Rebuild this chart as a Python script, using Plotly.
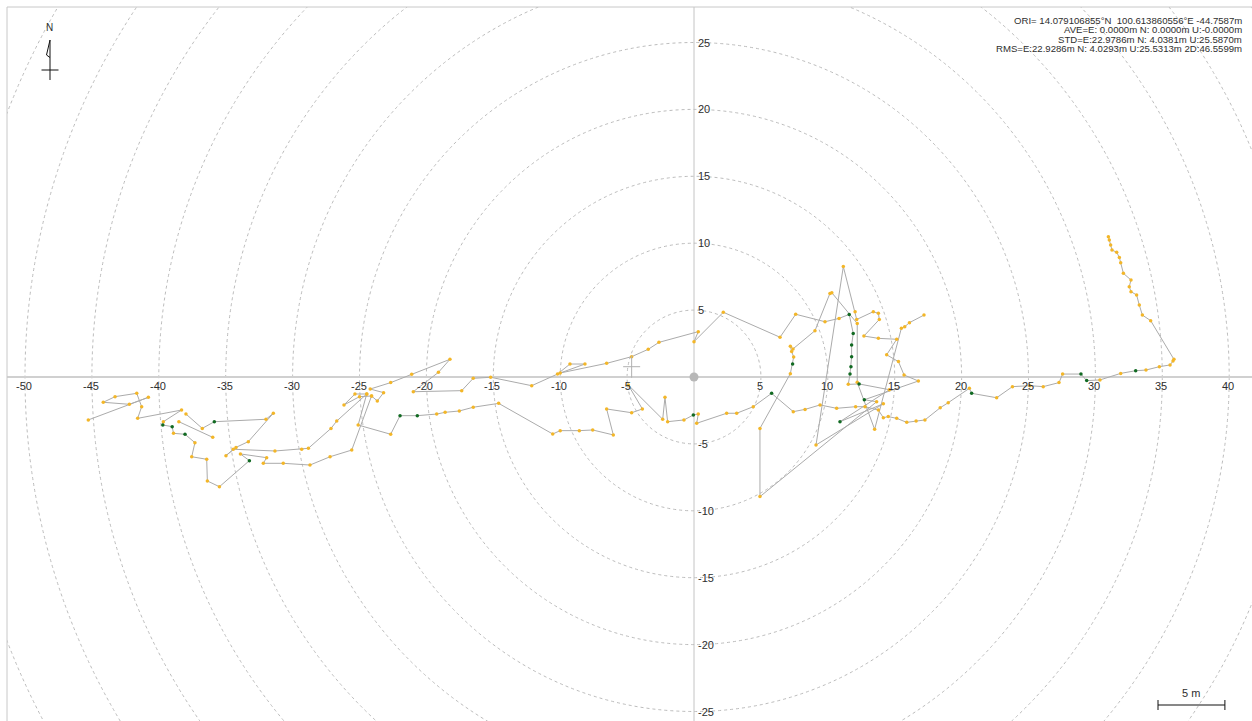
import plotly.graph_objects as go

# ---------------- data (east / north offsets in metres, quality 1=fix, 2=float) -------------
EAST = [
    # western cluster
    -45.27, -40.78, -42.2, -44.15, -43.27, -41.65, -41.28, -41.58, -38.3, -39.66, -39.7, -39.0,
    -38.9, -38.04, -37.3, -37.54, -36.42, -36.37, -35.47, -33.23, -33.9, -31.94, -32.19, -30.7,
    -28.7, -27.2, -25.58, -24.1, None,
    -38.5, -35.97, None,
    # upper track westward -> east
    -37.97, -36.75, -35.85, -31.99, -31.44, -33.31, -34.23, -34.98, -34.43, -31.32, -29.32, -28.82,
    -27.13, -26.7, -24.46, -25.34, -26.16, -25.0, -24.1, -23.67, -23.2, -24.2, -22.67, -21.1,
    -18.24, -19.1, -20.98, -17.36, -16.5, -15.2, -12.13, -10.2, -9.27, -8.15, -10.0, -6.53,
    -4.66, -3.42, -2.62, 0.32, 0.0, 2.19,
    # eastern cluster
    6.43, 7.6, 9.79, 10.84, 11.6, 11.9, 11.78, 11.78, 11.73, 11.66, 11.53, 12.34, 14.6, 10.91,
    14.15, 9.12, 11.16, 12.04, 12.16, 13.4, 13.78, 13.85, 12.7, 13.78, 15.15, 14.4, 15.28, 15.7,
    16.77, 12.73, 13.65, 4.93, 4.93, 7.2, 7.37, 7.45, 7.3, 7.2, 7.4, 9.04, 10.16, 10.3, 12.2,
    12.2, 13.5, 15.5, 15.75, 16.1, 17.19, None,
    # lower track
    -24.46, -25.1, -22.67, -21.97, -20.68, -19.23, -18.6, -17.54, -16.5, -14.6, -10.56, -10.0,
    -8.57, -7.57, -6.03, -6.53, -4.66, -3.86, -4.91, -2.34, -2.17, -1.97, -0.75, -0.05, 0.32,
    0.2, 2.44, 3.19, 4.43, 5.8, 7.42, 8.3, 9.42, 10.66, 12.08, 12.78, 13.78, 14.15, 14.52,
    15.15, 15.9, 16.6, 17.26, 18.4, 19.0, 20.58, 20.75, 22.62, 23.8, 25.1, 26.1, 27.28, 27.55,
    28.92, 29.35, 30.34, 31.89, 33.01, 33.78, 34.78, 35.58, 35.8, 35.87, 34.13, 33.51, 33.28,
    33.08, 32.66, 32.53, 32.66, 32.09, 31.89, 31.79, 31.59, 31.24, 31.14, 31.04, 30.97,
]
NORTH = [
    -3.21, -1.52, -2.04, -1.89, -1.47, -1.22, -2.22, -3.09, -2.47, -3.34, -3.59, -3.71,
    -4.21, -4.28, -4.91, -5.96, -6.15, -7.77, -8.2, -6.25, -5.75, -6.03, -6.45, -6.45,
    -6.58, -5.96, -5.46, -1.42, None,
    -3.34, -4.51, None,
    -2.77, -3.84, -3.34, -3.16, -2.71, -4.83, -5.26, -5.88, -5.4, -5.53, -5.4, -5.33,
    -3.84, -3.29, -1.27, -1.27, -2.09, -1.47, -1.42, -1.79, -1.17, -0.9, -0.42, 0.2,
    1.32, 0.35, -1.1, -1.02, -0.1, -0.02, -0.65, 0.22, 0.97, 0.97, 0.3, 1.02,
    1.52, 2.07, 2.59, 3.39, 2.64, 4.84,
    2.97, 4.69, 4.13, 4.38, 4.68, 3.26, 2.39, 1.52, 0.77, 0.22, -0.55, -0.52, -0.95, -3.34,
    -2.0, -5.08, 8.25, 4.88, 4.3, 4.88, 4.76, 4.3, 3.06, 2.89, 2.82, 1.66, 1.15, 0.15,
    -0.3, -1.7, -1.85, -8.94, -3.84, 0.25, 0.97, 1.5, 1.9, 2.3, 2.1, 3.46, 6.25, 6.3, 4.0,
    -0.4, -3.91, 3.65, 3.76, 4.06, 4.63, None,
    -1.27, -3.59, -4.28, -2.89, -2.89, -2.77, -2.64, -2.54, -2.26, -1.97, -4.26, -4.01,
    -4.01, -3.96, -4.33, -2.39, -2.67, -2.39, -0.6, -3.16, -1.52, -3.34, -3.21, -2.84, -2.77,
    -3.46, -2.71, -2.71, -2.22, -1.22, -2.59, -2.42, -2.09, -2.34, -2.22, -2.22, -2.47, -3.04, -2.96,
    -3.09, -3.39, -3.29, -3.21, -2.3, -1.92, -0.85, -1.22, -1.55, -0.72, -0.65, -0.72, -0.42, 0.22,
    0.22, -0.27, -0.22, 0.27, 0.47, 0.52, 0.77, 0.90, 1.2, 1.32, 4.21, 4.63, 5.38,
    6.13, 6.38, 6.75, 7.25, 7.75, 8.54, 8.94, 9.32, 9.49, 9.87, 10.24, 10.49,
]
QUALITY = [
    2, 2, 2, 2, 2, 2, 2, 2, 2, 2, 1, 1,
    2, 1, 2, 2, 2, 2, 2, 1, 2, 2, 2, 2,
    2, 2, 2, 2, None,
    2, 2, None,
    2, 2, 1, 2, 2, 2, 2, 2, 2, 2, 2, 2,
    2, 2, 2, 2, 2, 2, 2, 2, 2, 2, 2, 2,
    2, 2, 2, 2, 2, 2, 2, 2, 2, 2, 2, 2,
    2, 2, 2, 2, 2, 2,
    2, 2, 2, 2, 1, 1, 1, 1, 1, 1, 2, 1, 2, 1,
    2, 2, 2, 2, 2, 2, 2, 2, 2, 2, 2, 2, 2, 2,
    2, 1, 2, 2, 2, 2, 1, 2, 2, 2, 2, 2, 2, 2, 2,
    2, 2, 2, 2, 2, 2, None,
    2, 2, 2, 1, 1, 2, 2, 2, 2, 2, 2, 2,
    2, 2, 2, 2, 2, 2, 2, 2, 2, 2, 2, 1, 2,
    2, 2, 2, 2, 1, 2, 2, 2, 2, 2, 2, 2, 2, 2,
    2, 2, 2, 2, 2, 2, 2, 1, 2, 2, 2, 2, 2, 2,
    1, 1, 2, 2, 1, 2, 2, 2, 2, 2, 2, 2, 2,
    2, 2, 2, 2, 2, 2, 2, 2, 2, 2, 2, 2,
]

X_TICKS = [-50, -45, -40, -35, -30, -25, -20, -15, -10, -5, 5, 10, 15, 20, 25, 30, 35, 40]
Y_TICKS = [-25, -20, -15, -10, -5, 5, 10, 15, 20, 25]
RING_RADII = [5, 10, 15, 20, 25, 30, 35, 40, 45, 50, 55, 60, 65]
CURSOR = (-4.66, 0.77)
SCALE_BAR_M = 5

INFO_LINES = [
    "ORI= 14.079106855°N  100.613860556°E -44.7587m",
    "AVE=E: 0.0000m N: 0.0000m U:-0.0000m",
    "STD=E:22.9786m N: 4.0381m U:25.5870m",
    "RMS=E:22.9286m N: 4.0293m U:25.5313m 2D:46.5599m",
]

# ---------------- geometry of the page ----------------
W, H = 1252, 721
ML, MT = 7, 7
PPM = 13.38            # pixels per metre
X0_PX, Y0_PX = 694, 377  # pixel position of the origin
XR = [(ML - X0_PX) / PPM, (W - X0_PX) / PPM]
YR = [(Y0_PX - H) / PPM, (Y0_PX - MT) / PPM]


def px2x(px):
    return (px - X0_PX) / PPM


def py2y(py):
    return (Y0_PX - py) / PPM


TRACK = "#ababab"
FLOAT_C = "#f3b628"
FIX_C = "#116a22"
GRID = "#bcbcbc"
AXIS = "#d0d0d0"
TXT = "#2e2e2e"
FONT = "Liberation Sans"

fig = go.Figure()

# track line
fig.add_trace(go.Scatter(x=EAST, y=NORTH, mode="lines",
                         line=dict(color=TRACK, width=1), hoverinfo="skip", showlegend=False))

# points by quality
for q, col in [(2, FLOAT_C), (1, FIX_C)]:
    xs = [e for e, qq in zip(EAST, QUALITY) if qq == q]
    ys = [n for n, qq in zip(NORTH, QUALITY) if qq == q]
    fig.add_trace(go.Scatter(x=xs, y=ys, mode="markers",
                             marker=dict(color=col, size=3.5, line=dict(width=0)),
                             showlegend=False, hoverinfo="skip"))

# origin dot
fig.add_trace(go.Scatter(x=[0], y=[0], mode="markers",
                         marker=dict(color="#b8b8b8", size=9), showlegend=False, hoverinfo="skip"))

shapes = []
# range rings
for r in RING_RADII:
    shapes.append(dict(type="circle", xref="x", yref="y", x0=-r, x1=r, y0=-r, y1=r,
                       line=dict(color=GRID, width=1, dash="3px,3px"), layer="below"))
# axes through origin
shapes.append(dict(type="line", xref="x", yref="y", x0=XR[0], x1=XR[1], y0=0, y1=0,
                   line=dict(color=AXIS, width=2), layer="below"))
shapes.append(dict(type="line", xref="x", yref="y", x0=0, x1=0, y0=YR[0], y1=YR[1],
                   line=dict(color="#c4c4c4", width=1), layer="below"))
# frame (top / left)
shapes.append(dict(type="line", xref="paper", yref="paper", x0=0, x1=1, y0=1, y1=1,
                   line=dict(color="#c8c8c8", width=1)))
shapes.append(dict(type="line", xref="paper", yref="paper", x0=0, x1=0, y0=0, y1=1,
                   line=dict(color="#c8c8c8", width=1)))
# cursor cross
cx, cy = CURSOR
shapes.append(dict(type="line", xref="x", yref="y", x0=cx - 8.5 / PPM, x1=cx + 8.5 / PPM, y0=cy, y1=cy,
                   line=dict(color="#b0b0b0", width=1)))
shapes.append(dict(type="line", xref="x", yref="y", x0=cx, x1=cx, y0=cy - 11 / PPM, y1=cy + 11 / PPM,
                   line=dict(color="#b0b0b0", width=1)))
# north arrow
shapes.append(dict(type="line", xref="x", yref="y", x0=px2x(50), x1=px2x(50), y0=py2y(40), y1=py2y(80),
                   line=dict(color="#111111", width=1)))
shapes.append(dict(type="line", xref="x", yref="y", x0=px2x(41.5), x1=px2x(58.5), y0=py2y(70), y1=py2y(70),
                   line=dict(color="#111111", width=1)))
shapes.append(dict(type="path", xref="x", yref="y",
                   path=f"M {px2x(50)},{py2y(40)} L {px2x(46.5)},{py2y(55)} L {px2x(50)},{py2y(57.5)}",
                   line=dict(color="#111111", width=1)))
# scale bar
sb_y = py2y(705)
sb_x0 = px2x(1158)
sb_x1 = sb_x0 + SCALE_BAR_M
tk = 5 / PPM
shapes.append(dict(type="line", xref="x", yref="y", x0=sb_x0, x1=sb_x1, y0=sb_y, y1=sb_y,
                   line=dict(color="#111111", width=1)))
for xx in (sb_x0, sb_x1):
    shapes.append(dict(type="line", xref="x", yref="y", x0=xx, x1=xx, y0=sb_y - tk, y1=sb_y + tk,
                       line=dict(color="#111111", width=1)))

annotations = []
for t in X_TICKS:
    annotations.append(dict(x=t, y=0, xref="x", yref="y", text=str(t), showarrow=False,
                            xanchor="center", yanchor="middle", yshift=-9, xshift=-1,
                            font=dict(family=FONT, size=11, color=TXT)))
for t in Y_TICKS:
    annotations.append(dict(x=0, y=t, xref="x", yref="y", text=str(t), showarrow=False,
                            xanchor="left", yanchor="middle", xshift=2,
                            font=dict(family=FONT, size=11, color=TXT)))
# info text
for i, line in enumerate(INFO_LINES):
    annotations.append(dict(x=px2x(1244), y=py2y(20 + i * 9.6), xref="x", yref="y", text=line,
                            showarrow=False, xanchor="right", yanchor="middle",
                            font=dict(family=FONT, size=9.6, color=TXT)))
annotations.append(dict(x=(sb_x0 + sb_x1) / 2, y=py2y(693), xref="x", yref="y", text=f"{SCALE_BAR_M} m",
                        showarrow=False, xanchor="center", yanchor="middle",
                        font=dict(family=FONT, size=11, color=TXT)))
annotations.append(dict(x=px2x(49), y=py2y(27), xref="x", yref="y", text="N",
                        showarrow=False, xanchor="center", yanchor="middle",
                        font=dict(family=FONT, size=10, color=TXT)))

fig.update_layout(
    width=W, height=H,
    margin=dict(l=ML, r=0, t=MT, b=0, pad=0),
    paper_bgcolor="white", plot_bgcolor="white",
    xaxis=dict(range=XR, visible=False, fixedrange=True),
    yaxis=dict(range=YR, visible=False, fixedrange=True),
    shapes=shapes, annotations=annotations,
    showlegend=False,
)

fig.write_html("out.html", config={"displayModeBar": False},
               post_script="document.body.style.margin='0';document.body.style.overflow='hidden';")
